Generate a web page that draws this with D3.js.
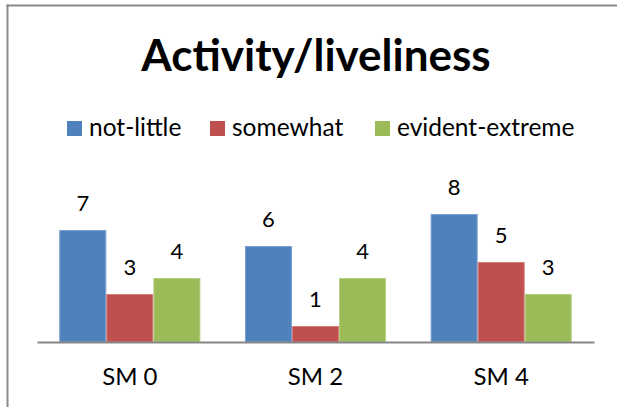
<!DOCTYPE html>
<html>
<head>
<meta charset="utf-8">
<script src="https://cdn.jsdelivr.net/npm/d3@7"></script>
<style>
    html, body { margin: 0; background: #fff; overflow: hidden; }
    svg { display: block; }
    text { font-family: Lato, "Open Sans", sans-serif; fill: #000; }
</style>
</head>
<body>
<div id="js-svg-container"></div>
<script>
let categories = ['SM 0', 'SM 2', 'SM 4'];
let seriesNames = ['not-little', 'somewhat', 'evident-extreme'];
let notLittle = [7, 6, 8];
let somewhat = [3, 1, 5];
let evidentExtreme = [4, 4, 3];
let titleText = 'Activity/liveliness';

let colors = ['#4F81BD', '#C0504D', '#9BBB59'];
let edges = ['#7A9FCF', '#D27B78', '#B5CF84'];

let width = 617, height = 407;
let margin = { left: 37, right: 23, baseline: 342 };

let seriesValues = [notLittle, somewhat, evidentExtreme];
let data = categories.map((c, i) => {
    return { cat: c, values: seriesValues.map(s => s[i]) };
});

let svg = d3.select('#js-svg-container')
    .append('svg')
    .attr('width', width)
    .attr('height', height);

// chart frame: only the left and top edges are in view
svg.append('line')
    .attr('x1', 7.5).attr('x2', 7.5)
    .attr('y1', 4.5).attr('y2', height)
    .attr('stroke', '#8a8a8a')
    .attr('stroke-width', 2);

svg.append('line')
    .attr('x1', 6.5).attr('x2', width)
    .attr('y1', 5.5).attr('y2', 5.5)
    .attr('stroke', '#8a8a8a')
    .attr('stroke-width', 2);

let x = d3.scaleBand()
    .domain(categories)
    .range([margin.left, width - margin.right])
    .paddingInner(0.24)
    .paddingOuter(0.12);

let xInner = d3.scaleBand()
    .domain(seriesNames)
    .range([0, x.bandwidth()]);

let y = d3.scaleLinear()
    .domain([0, 10])
    .range([margin.baseline, margin.baseline - 160]);

svg.append('text')
    .attr('x', 316)
    .attr('y', 71)
    .attr('text-anchor', 'middle')
    .style('font-size', '44px')
    .style('font-weight', 'bold')
    .text(titleText);

// legend
let legendX = [67, 210, 375];
let legend = svg.selectAll('.legend')
    .data(seriesNames)
    .enter()
    .append('g')
    .attr('class', 'legend')
    .attr('transform', (d, i) => 'translate(' + legendX[i] + ',121)');

legend.append('rect')
    .attr('width', 15)
    .attr('height', 15)
    .attr('fill', (d, i) => colors[i]);

legend.append('text')
    .attr('x', 22)
    .attr('y', 15)
    .style('font-size', '24.5px')
    .text(d => d);

let groups = svg.selectAll('.group')
    .data(data)
    .enter()
    .append('g')
    .attr('class', 'group')
    .attr('transform', d => 'translate(' + x(d.cat) + ',0)');

let bars = groups.selectAll('g')
    .data(d => d.values.map((v, i) => ({ name: seriesNames[i], value: v, idx: i })))
    .enter()
    .append('g');

bars.append('rect')
    .attr('x', d => xInner(d.name) + 0.5)
    .attr('y', d => y(d.value) + 0.5)
    .attr('width', xInner.bandwidth() - 1)
    .attr('height', d => y(0) - y(d.value) - 0.5)
    .attr('fill', d => colors[d.idx])
    .attr('stroke', d => edges[d.idx])
    .attr('stroke-width', 1);

bars.append('text')
    .attr('x', d => xInner(d.name) + xInner.bandwidth() / 2)
    .attr('y', d => y(d.value) - 19)
    .attr('text-anchor', 'middle')
    .style('font-size', '22px')
    .text(d => d.value);

let axisX = svg.append('g')
    .attr('transform', 'translate(0,' + margin.baseline + ')')
    .call(d3.axisBottom(x).tickSize(0).tickPadding(26));

axisX.select('.domain')
    .attr('stroke', '#868686')
    .attr('stroke-width', 2);

axisX.selectAll('.tick text')
    .style('font-size', '24px')
    .style('font-family', 'Lato, "Open Sans", sans-serif')
    .attr('fill', '#000');
</script>
</body>
</html>
